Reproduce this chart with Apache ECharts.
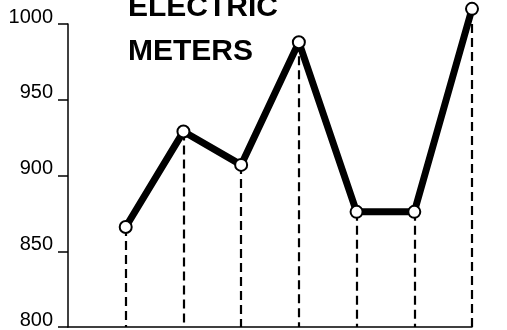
<!DOCTYPE html>
<html>
<head>
<meta charset="utf-8">
<script src="https://cdn.jsdelivr.net/npm/echarts@6/dist/echarts.min.js"></script>
<style>html,body{margin:0;padding:0;background:#fff;}#c{width:507px;height:330px;}</style>
</head>
<body>
<div id="c"></div>
<script>
var titleText = 'ELECTRIC\nMETERS';
var categories = ['', 'P1', 'P2', 'P3', 'P4', 'P5', 'P6', 'P7'];
var meterValues = [null, 866, 929, 907, 988, 876, 876, 1010];
var yTicks = [800, 850, 900, 950, 1000];

var yMin = yTicks[0], yMax = yTicks[yTicks.length - 1];
var dropLines = [];
categories.forEach(function (c, i) {
  if (meterValues[i] != null) {
    dropLines.push([{ coord: [c, Math.min(meterValues[i], yMax)] }, { coord: [c, yMin] }]);
  }
});

var chart = echarts.init(document.getElementById('c'));
chart.setOption({
  animation: false,
  backgroundColor: '#fff',
  title: {
    text: titleText,
    left: 123, top: -19,
    textStyle: { fontFamily: 'Liberation Sans', fontSize: 30, fontWeight: 'bold', color: '#000', lineHeight: 44 }
  },
  grid: { left: 68, right: 35, top: 24, bottom: 2, containLabel: false },
  xAxis: {
    type: 'category', data: categories, boundaryGap: false,
    axisLine: { show: true, lineStyle: { color: '#000', width: 1.5 } },
    axisTick: { show: false }, axisLabel: { show: false }, splitLine: { show: false }
  },
  yAxis: {
    type: 'value', min: yMin, max: yMax, interval: 50,
    axisLine: { show: true, lineStyle: { color: '#000', width: 1.5 } },
    axisTick: { show: true, length: 10, lineStyle: { color: '#000', width: 1.5 } },
    axisLabel: { margin: 15, color: '#000', fontFamily: 'Liberation Sans', fontSize: 20,
      verticalAlign: 'bottom', lineHeight: 14,
      formatter: function (v) { return String(v); } },
    splitLine: { show: false }
  },
  series: [
    {
      type: 'line', data: meterValues, clip: false, showSymbol: false, z: 2,
      lineStyle: { color: '#000', width: 7 },
      markLine: {
        silent: true, symbol: ['none', 'none'], label: { show: false },
        lineStyle: { color: '#000', width: 2.2, type: [9, 5] },
        data: dropLines
      }
    },
    {
      type: 'scatter', data: meterValues, clip: false, z: 5,
      symbol: 'circle', symbolSize: 12,
      itemStyle: { color: '#fff', borderColor: '#000', borderWidth: 2, opacity: 1 }
    }
  ]
});
</script>
</body>
</html>
